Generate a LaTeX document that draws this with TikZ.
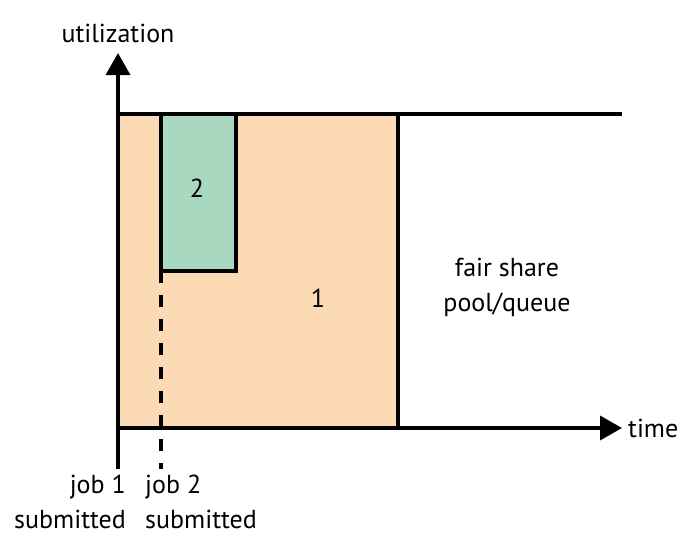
\documentclass[tikz,border=0pt]{standalone}
\usepackage{fontspec}
\setmainfont{PT Sans}
\usetikzlibrary{arrows.meta}
\definecolor{jobone}{RGB}{252,218,182}
\definecolor{jobtwo}{RGB}{168,217,192}

\begin{document}
\begin{tikzpicture}[x=1pt,y=-1pt]
  \tikzset{every node/.style={font=\fontsize{26}{35}\selectfont,inner sep=0pt}}
  \tikzset{axis/.style={line width=3.5pt,-{Triangle[length=22pt,width=24pt]}}}
  \tikzset{edge/.style={line width=3.5pt}}
  \useasboundingbox (0,0) rectangle (684,543);
  \coordinate (origin) at (118,428);
  \coordinate (ytop) at (118,53);
  \coordinate (ylow) at (118,469);
  \coordinate (xend) at (622,428);
  \coordinate (cap) at (118,114);
  \coordinate (capend) at (622,114);
  \coordinate (onetop) at (398,114);
  \coordinate (oneend) at (398,428);
  \coordinate (twotop) at (161,114);
  \coordinate (twoend) at (236,271);
  \coordinate (twolow) at (161,271);
  \coordinate (twosub) at (161,469);
  % jobs
  \fill[jobone] (cap) rectangle (oneend);
  \filldraw[fill=jobtwo,edge] (twotop) rectangle (twoend);
  \draw[edge] (onetop) -- (oneend);
  \draw[edge,dash pattern=on 12pt off 12pt] (twolow) -- (twosub);
  % axes
  \draw[edge] (cap) -- (capend);
  \draw[axis] (ylow) -- (ytop);
  \draw[axis] (origin) -- (xend);
  % labels
  \node (util) at (118,33) {utilization};
  \node (two) at (197,188) {2};
  \node (one) at (318,298) {1};
  \node[align=center] (pool) at (507,287) {fair share\\pool/queue};
  \node[anchor=west] (time) at (628,428) {time};
  \node[anchor=north east,align=right] (job1) at (126,475) {job 1\\submitted};
  \node[anchor=north west,align=left] (job2) at (145,475) {job 2\\submitted};
\end{tikzpicture}
\end{document}
